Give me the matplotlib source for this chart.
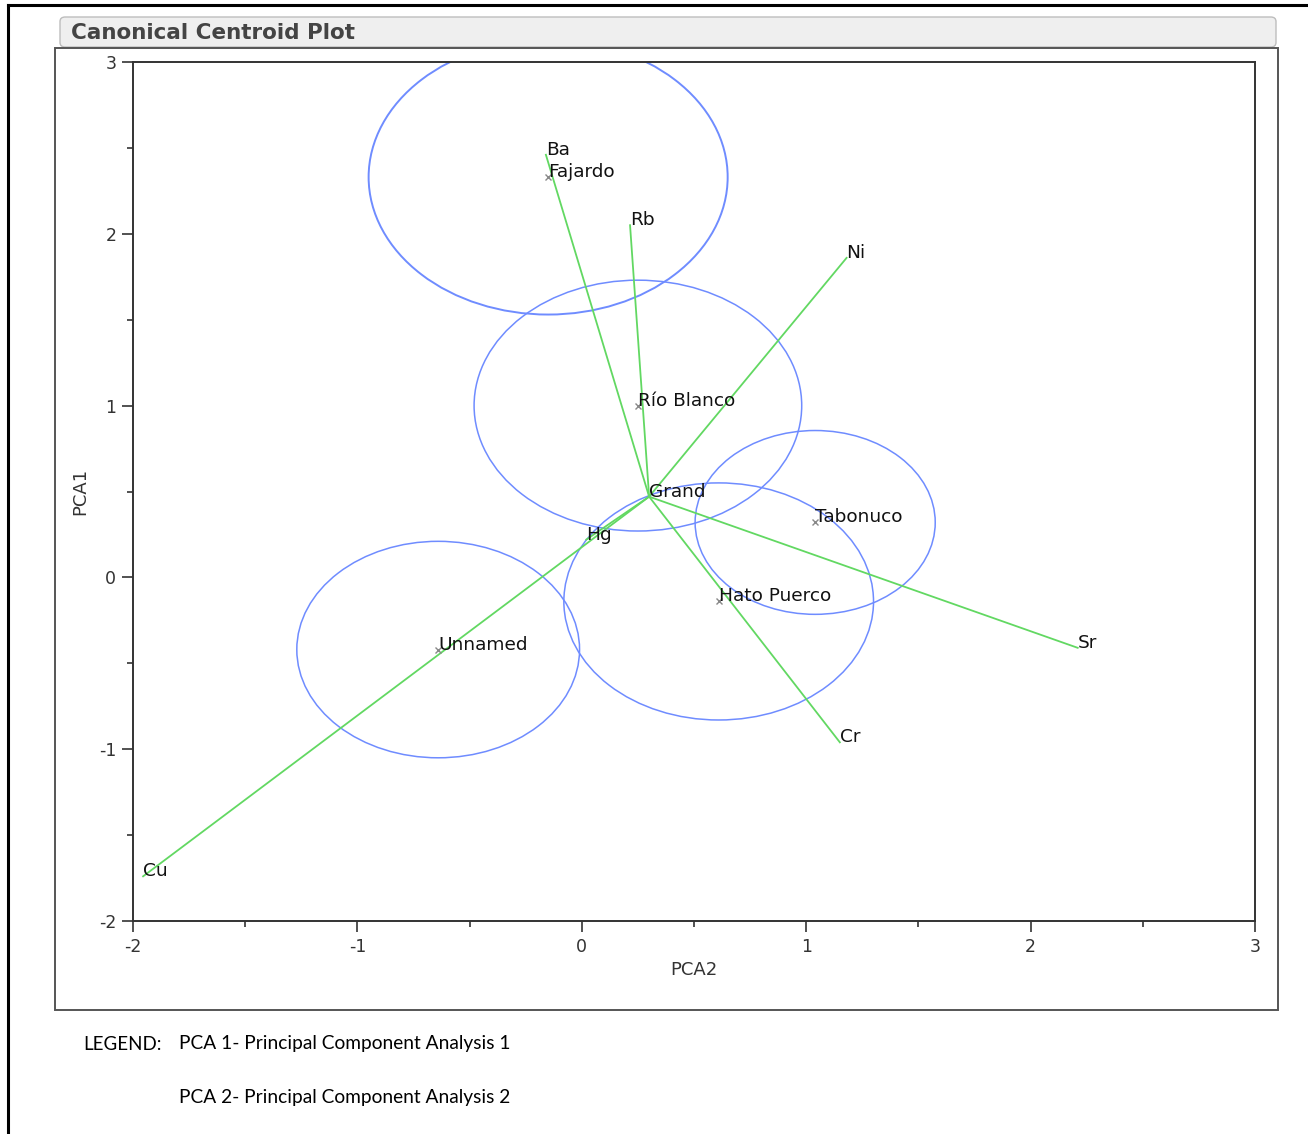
import matplotlib.pyplot as plt
from matplotlib.patches import Circle, FancyBboxPatch, Rectangle
from matplotlib.lines import Line2D

plt.rcParams["axes.unicode_minus"] = False

# group centroids (x = PCA2, y = PCA1) and circle radii
groups = ["Fajardo", "Río Blanco", "Tabonuco", "Hato Puerco", "Unnamed"]
group_x = [-0.15, 0.25, 1.04, 0.61, -0.64]
group_y = [2.33, 1.00, 0.32, -0.14, -0.42]
group_r = [0.80, 0.73, 0.535, 0.69, 0.63]

# element vectors, drawn from the grand centroid
elements = ["Ba", "Rb", "Ni", "Hg", "Sr", "Cr", "Cu"]
elem_x = [-0.16, 0.215, 1.18, 0.02, 2.21, 1.15, -1.955]
elem_y = [2.46, 2.05, 1.86, 0.22, -0.41, -0.96, -1.74]
grand_x = 0.30
grand_y = 0.47

W, H = 1308, 1134
fig = plt.figure(figsize=(W / 100, H / 100), dpi=100)


def fx(px):
    return px / W


def fy(py):
    return 1 - py / H


# outer page border (top and left only)
fig.add_artist(Line2D([fx(8), 1.0], [fy(5), fy(5)], color="black", lw=2.2))
fig.add_artist(Line2D([fx(8), fx(8)], [fy(5), 0.0], color="black", lw=2.2))

# title bar
fig.add_artist(FancyBboxPatch((fx(60), fy(47)), fx(1276) - fx(60), fy(17) - fy(47),
                              boxstyle="round,pad=0,rounding_size=0.004",
                              transform=fig.transFigure, facecolor="#efefef",
                              edgecolor="#bdbdbd", lw=1))
fig.text(fx(71), fy(33), "Canonical Centroid Plot", fontsize=15.5, fontweight="bold",
         color="#444444", ha="left", va="center", family="DejaVu Sans")

# panel frame
fig.add_artist(Rectangle((fx(55), fy(1010)), fx(1278) - fx(55), fy(48) - fy(1010),
                         transform=fig.transFigure, facecolor="none",
                         edgecolor="#555555", lw=1.4))

ax = fig.add_axes([fx(133), fy(921), fx(1255) - fx(133), fy(62) - fy(921)])
ax.set_xlim(-2, 3)
ax.set_ylim(-2, 3)

fs = 13.3
for name, x, y in zip(elements, elem_x, elem_y):
    ax.plot([grand_x, x], [grand_y, y], color="#62d862", lw=1.3, zorder=2)
    ax.text(x, y, name, ha="left", va="baseline", fontsize=fs, color="#111111", zorder=4)

for i, (name, x, y, r) in enumerate(zip(groups, group_x, group_y, group_r)):
    ax.add_patch(Circle((x, y), r, facecolor="none", edgecolor="#6f8cff",
                        lw=1.4 if i == 0 else 1.1, zorder=1))
    ax.plot(x, y, marker="x", color="#888888", ms=5, mew=1, zorder=3)
    ax.text(x, y, name, ha="left", va="baseline", fontsize=fs, color="#111111", zorder=4)

ax.text(grand_x, grand_y, "Grand", ha="left", va="baseline", fontsize=fs,
        color="#111111", zorder=4)

ax.set_xticks([-2, -1, 0, 1, 2, 3])
ax.set_yticks([-2, -1, 0, 1, 2, 3])
ax.set_xticks([-1.5, -0.5, 0.5, 1.5, 2.5], minor=True)
ax.set_yticks([-1.5, -0.5, 0.5, 1.5, 2.5], minor=True)
ax.tick_params(which="major", direction="out", length=8, width=1.2, color="#333333",
               labelsize=12.5, labelcolor="#333333", pad=4)
ax.tick_params(which="minor", direction="out", length=4, width=1.2, color="#333333")
for s in ax.spines.values():
    s.set_color("#333333")
    s.set_linewidth(1.4)

ax.set_xlabel("PCA2", fontsize=13, color="#333333", labelpad=4)
ax.set_ylabel("PCA1", fontsize=13, color="#333333", labelpad=7)

fig.text(fx(83), fy(1044), "LEGEND:", fontsize=13.5, family="Lato", ha="left", va="center")
fig.text(fx(179), fy(1044), "PCA 1- Principal Component Analysis 1", fontsize=13.8,
         family="Lato", ha="left", va="center")
fig.text(fx(179), fy(1097), "PCA 2- Principal Component Analysis 2", fontsize=13.8,
         family="Lato", ha="left", va="center")

fig.savefig("out.png", dpi=100)
